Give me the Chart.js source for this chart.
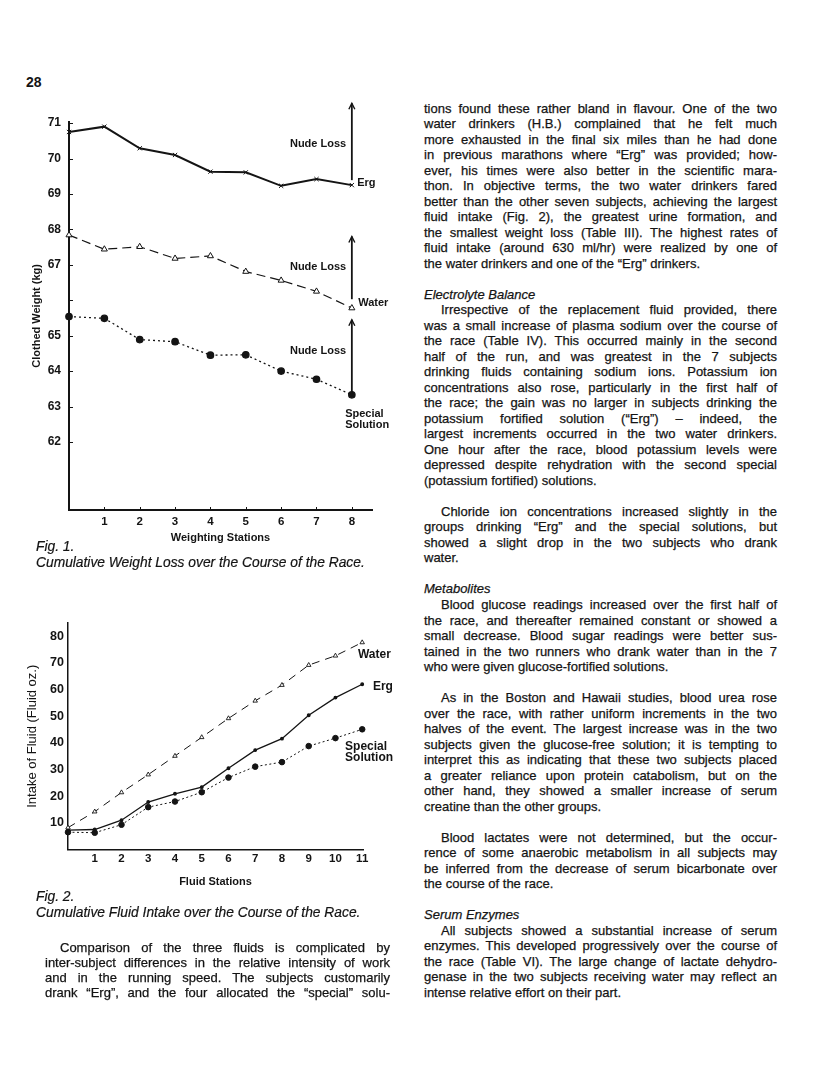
<!DOCTYPE html>
<html lang="en">
  <head>
    <meta charset="UTF-8" />
    <title>Fig. 1 and Fig. 2 - Weight loss and fluid intake</title>
    <script src="https://cdn.jsdelivr.net/npm/chart.js"></script>
    <style>
      body { margin: 0; width: 816px; height: 1083px; background: #fff; position: relative; overflow: hidden; }
      body, .txt { font-family: "Liberation Sans", Arial, Helvetica, sans-serif; color: #141414; }
      canvas { position: absolute; left: 0; }
      .pg { position: absolute; left: 26px; top: 74px; font-size: 14px; font-weight: bold; }
      .txt { position: absolute; font-size: 13px; -webkit-text-stroke: 0.25px #141414; }
      .txt div { white-space: normal; }
      .j { text-align: justify; text-align-last: justify; }
      .ind { text-indent: 17px; }
      .it { font-style: italic; }
      .cap { position: absolute; left: 36px; font-size: 13.8px; font-style: italic; line-height: 15.5px; -webkit-text-stroke: 0.2px #141414; }
    </style>
  </head>

  <body>
    <div class="pg">28</div>

    <canvas id="fig1" width="400" height="470" style="top:90px"></canvas>
    <div class="cap" style="top:539px">Fig. 1.<br />Cumulative Weight Loss over the Course of the Race.</div>

    <canvas id="fig2" width="400" height="300" style="top:600px"></canvas>
    <div class="cap" style="top:889px">Fig. 2.<br />Cumulative Fluid Intake over the Course of the Race.</div>

    <!-- left column text -->
    <div class="txt" style="left:45px; top:939.5px; width:345px; line-height:15.3px">
      <div class="j ind" style="text-indent:15px">Comparison of the three fluids is complicated by</div>
      <div class="j">inter-subject differences in the relative intensity of work</div>
      <div class="j">and in the running speed. The subjects customarily</div>
      <div class="j">drank “Erg”, and the four allocated the “special” solu-</div>
    </div>

    <!-- right column text -->
    <div class="txt" style="left:424px; top:100.5px; width:353px; line-height:15.515px">
      <div class="j">tions found these rather bland in flavour. One of the two</div>
      <div class="j">water drinkers (H.B.) complained that he felt much</div>
      <div class="j">more exhausted in the final six miles than he had done</div>
      <div class="j">in previous marathons where “Erg” was provided; how-</div>
      <div class="j">ever, his times were also better in the scientific mara-</div>
      <div class="j">thon. In objective terms, the two water drinkers fared</div>
      <div class="j">better than the other seven subjects, achieving the largest</div>
      <div class="j">fluid intake (Fig. 2), the greatest urine formation, and</div>
      <div class="j">the smallest weight loss (Table III). The highest rates of</div>
      <div class="j">fluid intake (around 630 ml/hr) were realized by one of</div>
      <div>the water drinkers and one of the “Erg” drinkers.</div>
      <div>&nbsp;</div>
      <div class="it">Electrolyte Balance</div>
      <div class="j ind">Irrespective of the replacement fluid provided, there</div>
      <div class="j">was a small increase of plasma sodium over the course of</div>
      <div class="j">the race (Table IV). This occurred mainly in the second</div>
      <div class="j">half of the run, and was greatest in the 7 subjects</div>
      <div class="j">drinking fluids containing sodium ions. Potassium ion</div>
      <div class="j">concentrations also rose, particularly in the first half of</div>
      <div class="j">the race; the gain was no larger in subjects drinking the</div>
      <div class="j">potassium fortified solution (“Erg”) – indeed, the</div>
      <div class="j">largest increments occurred in the two water drinkers.</div>
      <div class="j">One hour after the race, blood potassium levels were</div>
      <div class="j">depressed despite rehydration with the second special</div>
      <div>(potassium fortified) solutions.</div>
      <div>&nbsp;</div>
      <div class="j ind">Chloride ion concentrations increased slightly in the</div>
      <div class="j">groups drinking “Erg” and the special solutions, but</div>
      <div class="j">showed a slight drop in the two subjects who drank</div>
      <div>water.</div>
      <div>&nbsp;</div>
      <div class="it">Metabolites</div>
      <div class="j ind">Blood glucose readings increased over the first half of</div>
      <div class="j">the race, and thereafter remained constant or showed a</div>
      <div class="j">small decrease. Blood sugar readings were better sus-</div>
      <div class="j">tained in the two runners who drank water than in the 7</div>
      <div>who were given glucose-fortified solutions.</div>
      <div>&nbsp;</div>
      <div class="j ind">As in the Boston and Hawaii studies, blood urea rose</div>
      <div class="j">over the race, with rather uniform increments in the two</div>
      <div class="j">halves of the event. The largest increase was in the two</div>
      <div class="j">subjects given the glucose-free solution; it is tempting to</div>
      <div class="j">interpret this as indicating that these two subjects placed</div>
      <div class="j">a greater reliance upon protein catabolism, but on the</div>
      <div class="j">other hand, they showed a smaller increase of serum</div>
      <div>creatine than the other groups.</div>
      <div>&nbsp;</div>
      <div class="j ind">Blood lactates were not determined, but the occur-</div>
      <div class="j">rence of some anaerobic metabolism in all subjects may</div>
      <div class="j">be inferred from the decrease of serum bicarbonate over</div>
      <div>the course of the race.</div>
      <div>&nbsp;</div>
      <div class="it">Serum Enzymes</div>
      <div class="j ind">All subjects showed a substantial increase of serum</div>
      <div class="j">enzymes. This developed progressively over the course of</div>
      <div class="j">the race (Table VI). The large change of lactate dehydro-</div>
      <div class="j">genase in the two subjects receiving water may reflect an</div>
      <div>intense relative effort on their part.</div>
    </div>

    <script>
      // Fig. 1 - clothed weight (kg) at the weighing stations
      const weighStations = [0, 1, 2, 3, 4, 5, 6, 7, 8];
      const weightErg = [70.75, 70.9, 70.29, 70.1, 69.63, 69.61, 69.23, 69.42, 69.25];
      const weightWater = [67.84, 67.44, 67.51, 67.18, 67.25, 66.81, 66.56, 66.25, 65.78];
      const weightSpecial = [65.54, 65.49, 64.89, 64.83, 64.45, 64.46, 64.0, 63.77, 63.33];
      const weightTicks = [62, 63, 64, 65, 66, 67, 68, 69, 70, 71];
      const weightTickLabels = ["62", "63", "64", "65", "", "67", "68", "69", "70", "71"];
      // "Nude Loss" arrows at station 8 (Erg, Water, Special)
      const nudeLossFrom = [69.39, 66.03, 63.36];
      const nudeLossTo = [71.56, 67.8, 65.45];

      // Fig. 2 - cumulative fluid intake (fluid oz.) at the fluid stations
      const fluidStations = [0, 1, 2, 3, 4, 5, 6, 7, 8, 9, 10, 11];
      const fluidWater = [8.2, 14.2, 21.4, 28.1, 35.1, 42.1, 49.2, 55.8, 61.7, 69.2, 72.7, 77.7];
      const fluidErg = [7.3, 7.5, 11.0, 17.8, 20.9, 23.4, 30.5, 37.3, 41.6, 50.4, 57.0, 62.0];
      const fluidSpecial = [6.5, 6.3, 9.3, 15.9, 18.0, 21.5, 27.0, 31.1, 32.8, 38.8, 41.8, 45.1];
      const fluidTicks = [10, 20, 30, 40, 50, 60, 70, 80];

      const ink = "#141414";
      const FONT = '"Liberation Sans", Arial, Helvetica, sans-serif';

      function pts(xs, ys) {
        return xs.map((x, i) => ({ x: x, y: ys[i] }));
      }

      // arrows, labels and inner tick marks
      const notes = {
        id: "notes",
        afterDatasetsDraw(chart, args, opts) {
          const { ctx, scales } = chart;
          const xs = scales.x, ys = scales.y;
          const area = chart.chartArea;
          ctx.save();
          ctx.strokeStyle = ink;
          ctx.fillStyle = ink;

          if (opts.innerTicks) {
            ctx.lineWidth = 1;
            ys.ticks.forEach((t) => {
              const y = Math.round(ys.getPixelForValue(t.value)) + 0.5;
              ctx.beginPath();
              ctx.moveTo(area.left, y);
              ctx.lineTo(area.left + 4, y);
              ctx.stroke();
            });
            xs.ticks.forEach((t) => {
              const x = Math.round(xs.getPixelForValue(t.value)) + 0.5;
              ctx.beginPath();
              ctx.moveTo(x, area.bottom);
              ctx.lineTo(x, area.bottom - 3);
              ctx.stroke();
            });
          }

          (opts.arrows || []).forEach((a) => {
            const x = xs.getPixelForValue(a.x);
            const y0 = ys.getPixelForValue(a.from);
            const y1 = ys.getPixelForValue(a.to);
            ctx.lineWidth = 1.8;
            ctx.beginPath();
            ctx.moveTo(x, y0);
            ctx.lineTo(x, y1);
            ctx.stroke();
            ctx.lineWidth = 1.4;
            ctx.beginPath();
            ctx.moveTo(x - 3, y1 + 6);
            ctx.lineTo(x, y1);
            ctx.lineTo(x + 3, y1 + 6);
            ctx.stroke();
          });

          (opts.texts || []).forEach((t) => {
            ctx.font = "bold " + t.size + "px " + FONT;
            ctx.textAlign = t.align || "left";
            ctx.textBaseline = "middle";
            ctx.fillText(t.text, xs.getPixelForValue(t.x), ys.getPixelForValue(t.y));
          });
          ctx.restore();
        },
      };

      const tickFont1 = { family: FONT, size: 12, weight: "bold" };
      const labelFont1 = { family: FONT, size: 11, weight: "bold" };

      new Chart(document.getElementById("fig1"), {
        type: "line",
        data: {
          datasets: [
            {
              label: "Erg",
              data: pts(weighStations, weightErg),
              borderColor: ink,
              borderWidth: 2,
              pointStyle: "crossRot",
              pointRadius: 3,
              pointBorderWidth: 1,
              pointBorderColor: ink,
              clip: false,
            },
            {
              label: "Water",
              data: pts(weighStations, weightWater),
              borderColor: ink,
              borderWidth: 1.2,
              borderDash: [9, 5],
              pointStyle: "triangle",
              pointRadius: 3.5,
              pointBackgroundColor: "#fff",
              pointBorderColor: ink,
              pointBorderWidth: 1,
              clip: false,
            },
            {
              label: "Special Solution",
              data: pts(weighStations, weightSpecial),
              borderColor: ink,
              borderWidth: 1.3,
              borderDash: [2, 3],
              pointStyle: "circle",
              pointRadius: 3.2,
              pointBackgroundColor: ink,
              pointBorderColor: ink,
              clip: false,
            },
          ],
        },
        options: {
          responsive: false,
          animation: false,
          devicePixelRatio: 1,
          layout: { padding: { left: 0, right: 28, top: 31.7, bottom: 0 } },
          plugins: {
            legend: { display: false },
            tooltip: { enabled: false },
            notes: {
              innerTicks: true,
              arrows: [0, 1, 2].map((i) => ({ x: 8, from: nudeLossFrom[i], to: nudeLossTo[i] })),
              texts: [
                { text: "Nude Loss", x: 7.84, y: 70.41, align: "right", size: 11 },
                { text: "Nude Loss", x: 7.84, y: 66.94, align: "right", size: 11 },
                { text: "Nude Loss", x: 7.84, y: 64.58, align: "right", size: 11 },
                { text: "Erg", x: 8.15, y: 69.31, size: 11 },
                { text: "Water", x: 8.18, y: 65.93, size: 11 },
                { text: "Special", x: 7.81, y: 62.79, size: 11 },
                { text: "Solution", x: 7.81, y: 62.48, size: 11 },
              ],
            },
          },
          scales: {
            x: {
              type: "linear",
              min: 0,
              max: 8.57,
              afterFit: (s) => { s.height = 50; },
              afterBuildTicks: (s) => { s.ticks = weighStations.filter((v) => v > 0).map((v) => ({ value: v })); },
              grid: { display: false, drawTicks: false },
              border: { color: ink, width: 2 },
              ticks: { padding: 5, color: ink, font: { family: FONT, size: 11.5, weight: "bold" } },
              title: { display: true, text: "Weighting Stations", color: ink, font: labelFont1, padding: { top: 0, bottom: 15 } },
            },
            y: {
              type: "linear",
              min: 60.08,
              max: 71.04,
              afterFit: (s) => { s.width = 69; },
              afterBuildTicks: (s) => { s.ticks = weightTicks.map((v) => ({ value: v })); },
              grid: { display: false, drawTicks: false },
              border: { color: ink, width: 2 },
              ticks: { padding: 8, color: ink, font: tickFont1, callback: (v, i) => weightTickLabels[i] },
              title: { display: true, text: "Clothed Weight (kg)", color: ink, font: labelFont1, padding: { top: 30.4, bottom: 0 } },
            },
          },
        },
        plugins: [notes],
      });

      new Chart(document.getElementById("fig2"), {
        type: "line",
        data: {
          datasets: [
            {
              label: "Water",
              data: pts(fluidStations, fluidWater),
              borderColor: ink,
              borderWidth: 1,
              borderDash: [8, 6],
              pointStyle: "triangle",
              pointRadius: 2.6,
              pointBackgroundColor: "#fff",
              pointBorderColor: ink,
              pointBorderWidth: 0.9,
              clip: false,
            },
            {
              label: "Erg",
              data: pts(fluidStations, fluidErg),
              borderColor: ink,
              borderWidth: 1.3,
              pointStyle: "circle",
              pointRadius: 1.3,
              pointBackgroundColor: ink,
              pointBorderColor: ink,
              clip: false,
            },
            {
              label: "Special Solution",
              data: pts(fluidStations, fluidSpecial),
              borderColor: ink,
              borderWidth: 1,
              borderDash: [2, 2.5],
              pointStyle: "circle",
              pointRadius: 2.8,
              pointBackgroundColor: ink,
              pointBorderColor: ink,
              clip: false,
            },
          ],
        },
        options: {
          responsive: false,
          animation: false,
          devicePixelRatio: 1,
          layout: { padding: { left: 0, right: 37, top: 23, bottom: 0 } },
          plugins: {
            legend: { display: false },
            tooltip: { enabled: false },
            notes: {
              texts: [
                { text: "Water", x: 10.84, y: 73.2, size: 12 },
                { text: "Erg", x: 11.4, y: 61.2, size: 12 },
                { text: "Special", x: 10.36, y: 38.6, size: 12 },
                { text: "Solution", x: 10.36, y: 34.5, size: 12 },
              ],
            },
          },
          scales: {
            x: {
              type: "linear",
              min: 0,
              max: 11.03,
              afterFit: (s) => { s.height = 50.5; },
              afterBuildTicks: (s) => { s.ticks = fluidStations.filter((v) => v > 0).map((v) => ({ value: v })); },
              grid: { display: false, drawTicks: false },
              border: { color: ink, width: 1.5 },
              ticks: { padding: 2.5, color: ink, font: { family: FONT, size: 11.5, weight: "bold" } },
              title: { display: true, text: "Fluid Stations", color: ink, font: { family: FONT, size: 11, weight: "bold" }, padding: { top: 0, bottom: 11.7 } },
            },
            y: {
              type: "linear",
              min: 0,
              max: 85,
              afterFit: (s) => { s.width = 68; },
              afterBuildTicks: (s) => { s.ticks = fluidTicks.map((v) => ({ value: v })); },
              grid: { display: false, drawTicks: false },
              border: { color: ink, width: 1.5 },
              ticks: { padding: 4, color: ink, font: { family: FONT, size: 12.5, weight: "bold" } },
              title: { display: true, text: "Intake of Fluid (Fluid oz.)", color: ink, font: { family: FONT, size: 13 }, padding: { top: 25, bottom: 0 } },
            },
          },
        },
        plugins: [notes],
      });

      // keep every printed line on one line
      document.querySelectorAll(".txt div").forEach((d) => {
        let ls = 0;
        while (d.offsetHeight > 20 && ls > -1.5) {
          ls -= 0.05;
          d.style.letterSpacing = ls + "px";
        }
      });
    </script>
  </body>
</html>
